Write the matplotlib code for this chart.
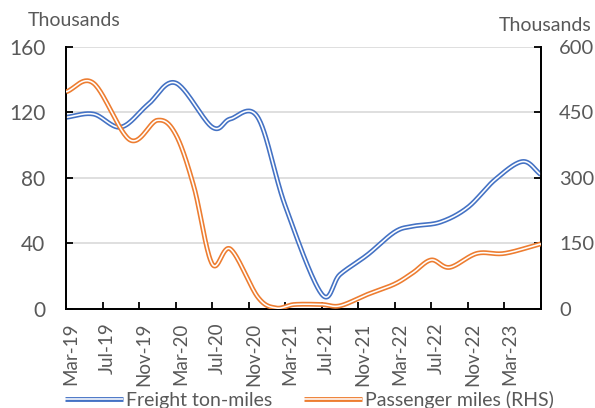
import matplotlib
matplotlib.use("Agg")
import matplotlib.pyplot as plt
import matplotlib.patheffects as pe
import matplotlib.transforms as mtransforms
import numpy as np

# month index 0 = Mar-19, 52 = Jul-23 (values in thousands)
freight_months = [0, 3, 6, 9, 12, 16, 18, 21, 24, 28, 30, 33, 36, 38, 41, 44, 47, 50, 52]
freight_vals = [117, 119, 111, 125, 138, 111, 116, 117, 63, 9, 21, 33, 47, 50.5, 53, 62, 79, 90, 82]

passenger_months = [0, 3, 7, 10, 12, 14, 16, 18, 21, 23, 25, 28, 30, 33, 36, 38, 40, 42, 45, 48, 52]
passenger_vals = [497, 517, 387, 432, 400, 280, 103, 137, 27, 2, 10, 10, 7, 33, 57, 83, 112, 95, 127, 127, 149]

tick_labels = ["Mar-19", "Jul-19", "Nov-19", "Mar-20", "Jul-20", "Nov-20", "Mar-21",
               "Jul-21", "Nov-21", "Mar-22", "Jul-22", "Nov-22", "Mar-23"]

BLUE = "#4472C4"
ORANGE = "#ED7D31"
GREY = "#595959"

plt.rcParams["font.family"] = ["Lato", "DejaVu Sans"]


def smooth(x, y, n=30, tension=0.5):
    # cardinal spline through the points, similar to Excel's smoothed line
    x = np.asarray(x, float)
    y = np.asarray(y, float)
    px = np.concatenate([[2 * x[0] - x[1]], x, [2 * x[-1] - x[-2]]])
    py = np.concatenate([[2 * y[0] - y[1]], y, [2 * y[-1] - y[-2]]])
    xs, ys = [], []
    t = np.linspace(0, 1, n)
    for i in range(1, len(px) - 2):
        m1x = tension * (px[i + 1] - px[i - 1])
        m1y = tension * (py[i + 1] - py[i - 1])
        m2x = tension * (px[i + 2] - px[i])
        m2y = tension * (py[i + 2] - py[i])
        h00 = 2 * t**3 - 3 * t**2 + 1
        h10 = t**3 - 2 * t**2 + t
        h01 = -2 * t**3 + 3 * t**2
        h11 = t**3 - t**2
        xs.append(h00 * px[i] + h10 * m1x + h01 * px[i + 1] + h11 * m2x)
        ys.append(h00 * py[i] + h10 * m1y + h01 * py[i + 1] + h11 * m2y)
    return np.concatenate(xs), np.concatenate(ys)


def double_line(color):
    return [pe.Stroke(linewidth=3.5, foreground=color), pe.Normal()]


fig = plt.figure(figsize=(5.95, 4.08), dpi=100)
ax = fig.add_axes([0.111, 0.243, 0.798, 0.642])
ax2 = ax.twinx()

fx, fy = smooth(freight_months, freight_vals)
px_, py_ = smooth(passenger_months, passenger_vals)
l1, = ax.plot(fx, fy, color="white", lw=1.15, path_effects=double_line(BLUE),
              label="Freight ton-miles", solid_capstyle="butt", zorder=3)
l2, = ax2.plot(px_, py_, color="white", lw=1.15, path_effects=double_line(ORANGE),
               label="Passenger miles (RHS)", solid_capstyle="butt", zorder=3)

ax.set_xlim(0, 52)
ax.set_ylim(0, 160)
ax2.set_ylim(0, 600)
ax.set_yticks(np.arange(0, 161, 40))
ax2.set_yticks(np.arange(0, 601, 150))
ax.set_xticks(np.arange(0, 53, 4))
ax.set_xticklabels(tick_labels + [""], rotation=90, va="top", ha="center")

ax.grid(axis="y", color="#D9D9D9", lw=1.2)
ax.set_axisbelow(True)
for a in (ax, ax2):
    a.spines["top"].set_visible(False)
    for s in ("left", "right", "bottom"):
        a.spines[s].set_color("black")
        a.spines[s].set_linewidth(1.3)
ax.tick_params(axis="y", direction="in", length=5, width=1.3, labelsize=15,
               labelcolor=GREY, pad=15)
ax2.tick_params(axis="y", direction="in", length=5, width=1.3, labelsize=14.5,
                labelcolor=GREY, pad=13)
ax.tick_params(axis="x", direction="in", length=5, width=1.3, labelsize=13.5,
               labelcolor=GREY, pad=10)

offset = mtransforms.ScaledTranslation(5 / 100, 0, fig.dpi_scale_trans)
for lab in ax.get_xticklabels():
    lab.set_transform(lab.get_transform() + offset)

fig.text(0.047, 0.95, "Thousands", fontsize=14, color=GREY, va="center", ha="left")
fig.text(0.994, 0.938, "Thousands", fontsize=14, color=GREY, va="center", ha="right")

fig.legend(handles=[l1, l2], loc="center", bbox_to_anchor=(0.52, 0.02), ncol=2,
           frameon=False, fontsize=14, handlelength=3.0, handletextpad=0.15,
           columnspacing=1.6, labelcolor=GREY)

fig.savefig("out.png", dpi=100)
